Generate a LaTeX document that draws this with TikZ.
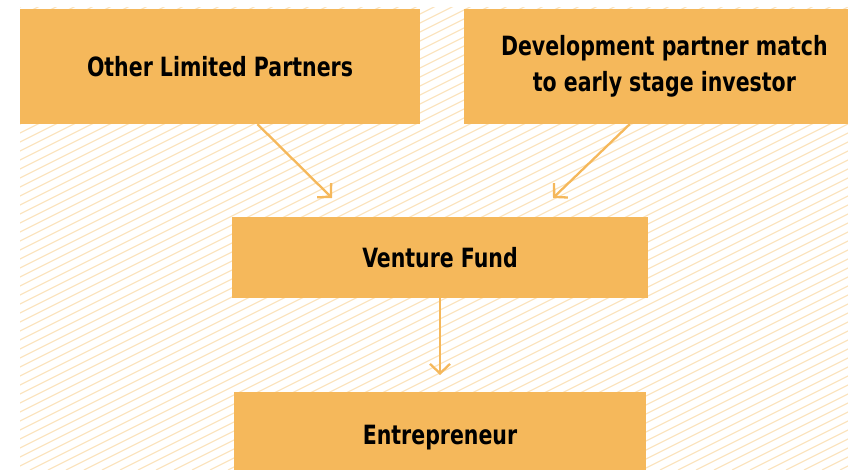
\documentclass[tikz,border=0pt]{standalone}
\usepackage{fontspec}
\setmainfont{DejaVu Sans Condensed}[FakeStretch=0.86]
\usetikzlibrary{arrows.meta, positioning}
\definecolor{fundorange}{RGB}{245,184,91}
\definecolor{hatchorange}{RGB}{251,228,192}

\begin{document}
\begin{tikzpicture}[x=1pt, y=-1pt, >={Straight Barb[length=9.5pt,width=20pt]}, font=\fontsize{26.5}{36}\selectfont\bfseries]
      \useasboundingbox (0,0) rectangle (848,470);
      % hatched backdrop
      \begin{scope}
        \clip (20,8) rectangle (848,470);
        \foreach \c in {-960,-942,...,860}
          \draw[hatchorange, line width=1.2pt] (\c,470) -- (\c+940,0);
      \end{scope}
      \node[fill=fundorange, inner sep=0pt, minimum width=400pt, minimum height=115pt] (lp) at (220,66.5) {Other Limited Partners};
      \node[fill=fundorange, inner sep=0pt, minimum width=400pt, minimum height=115pt, align=center, right=44pt of lp] (dev) {Development partner match\\to early stage investor};
      \node[fill=fundorange, inner sep=0pt, minimum width=416pt, minimum height=81pt] (vf) at (440,257.5) {Venture Fund};
      \node[fill=fundorange, inner sep=0pt, minimum width=412pt, minimum height=90pt, anchor=north] (ent) at (440,392) {Entrepreneur};
      \coordinate (lptip) at (332,198);
      \coordinate (devtip) at (553,198);
      \draw[->, fundorange, line width=2.3pt] (lp.-57) -- (lptip);
      \draw[->, fundorange, line width=2.3pt] (dev.-121) -- (devtip);
      \draw[->, fundorange, line width=2.3pt, shorten >=17pt] (vf.south) -- (ent.north);
    \end{tikzpicture}
\end{document}
